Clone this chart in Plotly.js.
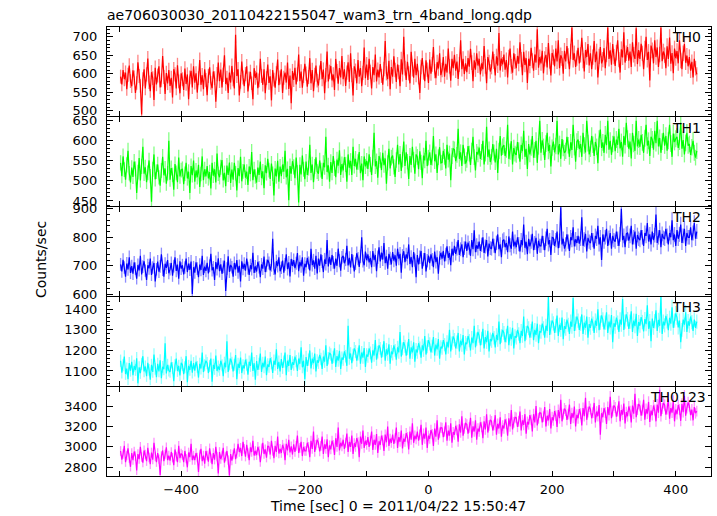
<!DOCTYPE html>
<html>
<head>
<meta charset="utf-8">
<script src="https://cdn.plot.ly/plotly-3.0.1.min.js"></script>
<style>html,body{margin:0;padding:0;background:#fff;}#chart{width:717px;height:516px;}</style>
</head>
<body>
<div id="chart"></div>
<script>
// Time bins (sec relative to 2011/04/22 15:50:47)
const tStart = -498;
const tStep = 2;

const bandNames = ["TH0", "TH1", "TH2", "TH3", "TH0123"];

const th0 = [
592,571,610,585,603,558,597,622,580,566,
609,590,548,575,631,594,567,490,585,612,
560,598,641,577,553,604,588,529,616,571,
595,620,563,582,648,591,545,602,574,610,
567,589,536,612,598,560,623,579,547,601,
585,556,614,572,598,531,590,608,563,620,
576,601,549,588,637,570,596,558,612,583,
542,594,617,575,561,606,588,524,599,630,
580,611,563,597,650,572,589,548,603,576,
621,585,560,705,594,612,541,578,633,590,
566,599,620,552,587,605,574,531,615,589,
603,561,582,640,594,570,612,547,588,625,
575,593,528,610,584,562,601,638,569,590,
612,548,589,603,576,630,559,595,520,607,
583,616,571,598,652,580,606,562,594,627,
600,565,591,642,574,610,553,597,622,581,
568,603,634,585,611,547,596,660,579,605,
621,582,598,556,640,607,573,615,590,648,
585,612,567,603,631,578,655,596,541,620,
608,574,637,592,615,566,602,671,588,625,
583,640,605,560,618,596,652,579,611,590,
626,594,570,613,688,601,585,635,558,618,
592,647,610,578,625,604,566,639,598,700,
615,583,632,601,574,659,612,589,640,596,
627,590,548,618,642,603,580,636,611,575,
638,600,625,672,607,588,631,614,655,596,
610,645,592,627,603,668,620,581,640,615,
651,608,633,586,625,690,612,640,599,628,
604,642,619,667,630,580,636,611,655,622,
640,598,628,612,675,620,574,645,631,606,
618,660,633,595,647,622,710,609,641,625,
652,611,637,590,644,668,620,603,655,633,
615,648,627,685,638,596,659,624,642,575,
640,621,670,635,608,652,630,720,616,645,
628,662,601,640,651,617,683,634,595,656,
645,620,668,633,690,615,650,641,600,662,
633,675,648,612,660,725,637,655,618,642,
670,628,651,697,635,606,664,645,680,622,
655,612,645,688,631,660,590,647,672,628,
638,669,615,652,725,640,663,624,680,646,
621,657,690,638,603,666,644,712,630,655,
672,635,660,618,685,651,640,723,626,664,
640,681,655,612,668,700,637,659,582,676,
663,628,690,645,671,618,652,725,634,660,
650,615,674,640,698,627,656,601,668,642,
661,628,690,635,612,655,680,630,649,620,
645,608,632,590,640,615,598
];

const th1 = [
545,512,561,528,503,540,575,519,496,533,
510,548,530,470,522,557,501,536,585,518,
534,497,520,551,512,448,529,566,504,523,
541,509,488,526,560,514,531,493,519,600,
503,532,515,478,542,520,497,558,511,527,
530,492,518,545,506,523,470,537,514,551,
498,526,509,540,485,517,561,502,529,511,
537,506,522,481,545,513,529,496,568,518,
509,534,552,501,520,487,538,515,546,495,
528,503,545,519,476,532,512,560,499,524,
541,508,523,490,536,517,572,502,529,511,
496,533,515,548,507,524,482,539,519,555,
527,505,543,518,464,531,511,550,498,536,
512,541,523,575,509,530,452,537,518,549,
535,507,558,521,446,540,516,563,529,504,
548,515,532,590,520,541,497,536,559,523,
518,551,527,505,545,534,610,522,539,498,
547,520,562,531,509,553,538,576,515,542,
526,559,541,498,566,533,550,515,585,537,
555,528,547,572,519,543,502,561,536,550,
530,566,541,515,558,620,536,549,508,562,
552,527,570,539,556,493,545,580,531,558,
563,535,510,552,590,541,567,525,553,598,
537,571,548,505,562,540,585,553,518,566,
560,529,574,546,507,563,551,600,537,558,
571,540,558,612,549,566,520,559,584,545,
546,575,560,531,590,553,568,502,562,580,
578,549,565,630,555,571,537,590,561,543,
552,587,568,540,575,610,559,526,572,566,
583,555,572,600,541,568,635,560,578,547,
560,592,571,546,580,520,575,612,563,585,
589,562,578,640,555,573,599,541,582,568,
565,597,576,548,590,574,625,560,580,530,
592,566,583,612,558,577,600,545,586,650,
570,601,585,552,593,620,574,590,536,583,
598,571,587,650,566,592,555,604,582,570,
575,610,589,560,596,577,640,584,548,598,
603,579,592,560,620,588,571,650,594,566,
580,612,590,562,597,585,544,605,628,582,
596,570,615,589,650,578,600,565,592,611,
574,603,590,630,581,597,560,612,589,645,
605,580,598,556,620,592,575,650,586,603,
585,615,596,570,606,640,588,600,562,610,
603,578,625,594,650,586,607,570,598,620,
588,612,575,600,640,593,560,618,597,605,
610,582,598,645,580,602,566,595,620,588,
592,565,584,600,570,558,575
];

const th2 = [
705,680,721,694,662,708,687,730,675,699,
672,712,690,655,703,684,735,670,697,716,
683,650,702,691,725,668,694,710,645,688,
715,679,698,740,686,662,707,693,720,674,
688,710,665,699,730,682,704,655,716,690,
702,670,694,725,678,708,686,715,601,695,
676,712,690,660,704,685,735,668,697,682,
710,673,700,742,684,695,650,713,688,726,
681,705,672,696,718,612,690,733,679,703,
695,662,710,687,720,676,700,645,716,689,
707,683,725,692,668,702,688,746,675,698,
680,714,695,660,705,690,732,678,700,721,
710,684,702,795,690,670,716,699,730,681,
693,718,676,705,740,688,712,663,724,700,
720,692,709,745,681,714,698,730,665,707,
695,728,710,684,760,702,719,690,735,673,
725,700,740,715,678,722,706,790,698,731,
703,738,712,690,725,700,760,718,683,729,
735,709,722,770,701,728,694,741,716,680,
708,744,725,696,733,800,717,702,750,720,
740,712,728,695,752,720,738,681,730,765,
715,746,722,780,709,733,690,742,726,705,
748,718,737,700,760,725,742,676,735,751,
713,740,725,775,706,731,695,748,720,660,
738,705,730,752,690,722,745,680,718,736,
709,740,722,695,750,713,730,672,728,745,
725,752,715,740,768,728,745,702,760,736,
770,742,760,790,738,758,775,730,762,785,
752,781,763,735,790,758,825,748,772,760,
785,752,774,800,745,768,790,733,778,762,
760,795,770,744,781,810,758,775,730,788,
792,765,780,748,803,772,760,820,768,785,
765,800,776,750,790,772,845,763,784,741,
795,768,785,812,755,780,798,742,788,770,
770,805,780,755,795,830,775,790,738,800,
798,770,790,820,762,788,905,775,795,760,
775,810,785,752,800,790,835,768,793,780,
805,778,795,870,770,792,812,750,798,785,
780,815,790,760,805,795,840,775,800,720,
810,785,800,830,770,798,815,760,805,790,
785,820,795,770,810,900,790,805,765,812,
815,788,805,840,775,800,820,760,808,795,
790,825,800,770,815,805,850,785,810,775,
820,790,808,880,780,800,825,765,812,798,
795,830,805,775,815,800,860,790,810,770,
825,795,810,845,780,805,830,770,815,800,
800,835,790,815,850,795,820
];

const th3 = [
1150,1092,1128,1170,1085,1112,1060,1138,1101,1145,
1080,1125,1105,1162,1040,1118,1090,1135,1172,1098,
1122,1075,1140,1105,1058,1130,1095,1180,1110,1070,
1135,1098,1152,1065,1120,1108,1235,1088,1130,1102,
1095,1142,1115,1050,1128,1160,1100,1125,1078,1140,
1130,1085,1118,1172,1045,1125,1105,1150,1092,1138,
1102,1145,1120,1068,1135,1112,1190,1095,1128,1150,
1138,1090,1125,1160,1048,1130,1110,1175,1100,1122,
1105,1150,1128,1075,1140,1118,1245,1095,1132,1160,
1140,1098,1130,1178,1060,1135,1115,1165,1090,1128,
1112,1155,1130,1082,1145,1125,1190,1100,1138,1058,
1148,1105,1135,1185,1095,1140,1118,1170,1080,1132,
1120,1162,1138,1090,1150,1130,1205,1110,1145,1098,
1158,1115,1145,1190,1080,1150,1125,1178,1105,1142,
1130,1170,1148,1100,1160,1135,1215,1118,1150,1060,
1168,1125,1155,1200,1112,1160,1138,1185,1098,1152,
1140,1178,1158,1110,1170,1145,1225,1125,1162,1188,
1180,1135,1168,1210,1120,1172,1150,1198,1110,1165,
1155,1195,1172,1125,1320,1160,1185,1138,1178,1210,
1195,1150,1182,1225,1135,1190,1165,1212,1120,1180,
1170,1210,1188,1140,1200,1175,1250,1155,1192,1225,
1210,1165,1198,1245,1150,1205,1180,1230,1135,1195,
1182,1225,1200,1155,1215,1190,1290,1170,1208,1240,
1220,1175,1208,1255,1160,1215,1190,1240,1145,1205,
1190,1235,1212,1165,1225,1200,1270,1180,1218,1250,
1232,1190,1220,1265,1175,1228,1205,1255,1160,1218,
1210,1250,1228,1180,1242,1215,1300,1195,1235,1268,
1252,1210,1240,1285,1195,1248,1225,1275,1180,1238,
1230,1270,1248,1200,1262,1235,1320,1215,1255,1290,
1270,1225,1258,1305,1210,1265,1240,1295,1195,1255,
1245,1285,1262,1215,1275,1250,1340,1230,1270,1300,
1285,1240,1272,1320,1225,1280,1255,1310,1210,1270,
1262,1300,1280,1235,1295,1270,1365,1245,1285,1320,
1308,1262,1295,1340,1250,1300,1275,1330,1235,1292,
1290,1330,1308,1262,1320,1295,1460,1275,1312,1345,
1332,1285,1320,1370,1270,1325,1300,1360,1255,1318,
1305,1350,1325,1280,1340,1315,1455,1295,1330,1365,
1345,1300,1330,1375,1280,1335,1310,1365,1262,1328,
1310,1355,1330,1285,1345,1320,1400,1298,1335,1370,
1350,1302,1335,1385,1285,1340,1312,1372,1240,1332,
1315,1360,1335,1290,1350,1325,1450,1300,1340,1375,
1352,1305,1340,1390,1290,1345,1318,1378,1270,1338,
1320,1362,1338,1292,1352,1328,1420,1305,1342,1245,
1355,1310,1342,1395,1295,1348,1320,1460,1280,1340,
1322,1368,1342,1298,1358,1330,1410,1310,1345,1380,
1360,1312,1345,1240,1300,1350,1325,1385,1290,1342,
1320,1365,1338,1295,1350,1310,1340
];

const th0123 = [
2960,2875,2930,3010,2850,2915,2985,2890,2805,2940,
2870,2955,2910,2770,2930,2880,3000,2900,2845,2965,
2925,2860,2990,2895,2830,2945,2875,3040,2905,2850,
2940,2880,2725,2910,2965,2860,2925,2995,2870,2915,
2865,2950,2895,2820,2975,2905,2850,3010,2890,2935,
2920,2850,2960,2885,2800,2945,2900,3030,2870,2915,
2870,2940,2895,2755,2925,2980,2860,2915,2835,2960,
2915,2855,2985,2890,2830,2940,2875,3000,2905,2740,
2950,2880,2915,2990,2845,2905,2960,2870,2720,2930,
2865,2925,2985,2880,2935,3030,2950,2990,2910,3050,
2980,2905,3020,2940,2870,2995,2950,3060,2915,2960,
2920,3000,2960,2850,2985,3040,2930,2975,2895,3010,
3000,2925,3060,2960,2890,3010,2950,3100,2935,2980,
2940,3020,2985,2870,3030,2965,3070,2945,3005,2925,
3025,2950,3010,3110,2940,2990,3050,2910,3000,2960,
2960,3040,3000,2900,3060,2980,3150,2950,3020,3070,
3040,2955,3010,3100,2930,3025,2980,3075,2900,3015,
2975,3060,3020,2920,3085,3000,3190,2965,3040,3005,
3070,2980,3040,3130,2950,3050,3000,3110,2930,3035,
3000,3085,3045,2900,3100,3030,3160,2990,3060,3020,
3095,3000,3060,3150,2970,3070,3020,3125,2940,3055,
3020,3110,3065,2960,3120,3045,3200,3010,3080,3040,
3120,3030,3085,3190,2990,3095,3050,3160,2985,3080,
3050,3135,3095,2975,3150,3070,3230,3040,3110,3075,
3150,3060,3120,3215,3020,3130,3080,3190,2990,3110,
3080,3165,3125,3010,3180,3100,3260,3070,3140,3190,
3185,3095,3150,3240,3060,3160,3110,3230,3040,3145,
3120,3205,3165,3050,3220,3140,3300,3110,3180,3230,
3220,3130,3190,3285,3090,3200,3150,3260,3070,3180,
3150,3240,3195,3085,3250,3170,3320,3140,3210,3265,
3250,3160,3215,3310,3120,3225,3180,3290,3100,3210,
3180,3270,3225,3110,3280,3200,3360,3170,3240,3290,
3285,3195,3250,3345,3160,3260,3215,3320,3130,3245,
3220,3310,3265,3150,3320,3240,3400,3210,3280,3335,
3330,3240,3295,3390,3200,3305,3260,3370,3180,3290,
3260,3350,3305,3195,3360,3280,3460,3250,3320,3375,
3355,3265,3320,3415,3225,3330,3285,3395,3200,3315,
3280,3370,3325,3210,3380,3300,3480,3265,3340,3395,
3370,3280,3335,3430,3240,3345,3300,3410,3120,3330,
3290,3380,3335,3225,3390,3310,3490,3280,3350,3405,
3385,3295,3350,3445,3250,3360,3315,3425,3230,3340,
3300,3395,3350,3240,3405,3325,3520,3290,3365,3420,
3400,3305,3360,3460,3265,3370,3325,3440,3245,3355,
3310,3405,3360,3250,3415,3335,3560,3300,3375,3430,
3410,3315,3370,3470,3275,3380,3335,3450,3250,3365,
3320,3410,3365,3255,3420,3340,3500,3305,3380,3435,
3400,3310,3365,3260,3390,3330,3350
];

const series = [th0, th1, th2, th3, th0123];
const colors = ["#ff0000", "#00ff00", "#0000ff", "#00ffff", "#ff00ff"];
const errColors = ["rgba(255,80,80,0.7)", "rgba(80,255,80,0.7)", "rgba(80,80,255,0.65)", "rgba(110,255,255,0.75)", "rgba(255,100,255,0.7)"];
const errPct = [3.2, 3.5, 3.2, 2.6, 1.6];
const yRanges = [[485.7, 726.2], [437.5, 659.2], [594, 906.3], [1027, 1459.8], [2715, 3586]];
const yDtick = [50, 50, 100, 100, 200];
const yMinor = [10, 10, 20, 20, 100];
const xRange = [-520, 457];

const FONT = "DejaVu Sans, Liberation Sans, Arial, sans-serif";

const time = th0.map((_, i) => tStart + i * tStep);

const traces = series.map((ys, k) => {
  const n = k === 0 ? "" : String(k + 1);
  return {
    type: "scatter",
    mode: "lines",
    x: time,
    y: ys,
    xaxis: "x" + n,
    yaxis: "y" + n,
    line: {color: colors[k], width: 1.2},
    error_y: {type: "percent", value: errPct[k], color: errColors[k], thickness: 1.3, width: 0},
    hoverinfo: "skip",
    showlegend: false
  };
});

// plot area in pixels: 27..476 (449 px) = 5 panels of 89 px with 1 px seams
const marginT = 27, marginB = 40, plotH = 449, panelH = 89, seam = 1;

const layout = {
  width: 717,
  height: 516,
  margin: {l: 107, r: 6, t: marginT, b: marginB},
  paper_bgcolor: "#ffffff",
  plot_bgcolor: "#ffffff",
  font: {family: FONT, size: 13, color: "#000"},
  title: {
    text: "ae706030030_20110422155047_wam3_trn_4band_long.qdp",
    font: {family: FONT, size: 14, color: "#000"},
    xref: "paper", x: 0, xanchor: "left",
    yref: "container", y: 1 - 15 / 516, yanchor: "middle"
  },
  showlegend: false,
  annotations: []
};

const nP = 5;
for (let k = 0; k < nP; k++) {
  const n = k === 0 ? "" : String(k + 1);
  const topPx = k * (panelH + seam);
  const botPx = topPx + panelH;
  layout["yaxis" + n] = {
    domain: [1 - botPx / plotH, 1 - topPx / plotH],
    anchor: "x" + n,
    range: yRanges[k],
    dtick: yDtick[k],
    tick0: 0,
    ticks: "inside",
    ticklen: 6,
    tickwidth: 1,
    tickcolor: "#000",
    minor: {dtick: yMinor[k], ticks: "inside", ticklen: 3, tickcolor: "#000", tickwidth: 1, showgrid: false},
    showline: true,
    linecolor: "#000",
    linewidth: 1,
    mirror: "ticks",
    showgrid: false,
    zeroline: false,
    tickfont: {family: FONT, size: 13, color: "#000"},
    ticklabelstandoff: 6,
    fixedrange: true
  };
  layout["xaxis" + n] = {
    domain: [0, 1],
    anchor: "y" + n,
    range: xRange,
    dtick: 200,
    tick0: 0,
    ticks: "inside",
    ticklen: 5,
    tickwidth: 1,
    tickcolor: "#000",
    minor: {dtick: 100, ticks: "inside", ticklen: 5, tickcolor: "#000", tickwidth: 1, showgrid: false},
    showline: true,
    linecolor: "#000",
    linewidth: 1,
    mirror: "ticks",
    showgrid: false,
    zeroline: false,
    showticklabels: k === nP - 1,
    tickfont: {family: FONT, size: 13, color: "#000"},
    ticklabelstandoff: 1,
    fixedrange: true
  };
}

// Panel labels
const labelPos = [
  {x: 703, y: 37},
  {x: 703, y: 127.7},
  {x: 703, y: 216.7},
  {x: 703, y: 306.7},
  {x: 708, y: 396.7}
];
const plotL = 107, plotW = 604, plotB = 476;
bandNames.forEach((name, k) => {
  layout.annotations.push({
    text: name,
    xref: "paper", yref: "paper",
    x: (labelPos[k].x - plotL) / plotW,
    y: (plotB - labelPos[k].y) / plotH,
    xanchor: "right", yanchor: "middle",
    showarrow: false,
    font: {family: FONT, size: 14, color: "#000"}
  });
});

// Axis titles
layout.annotations.push({
  text: "Time [sec] 0 = 2011/04/22 15:50:47",
  xref: "paper", yref: "paper",
  x: (397.5 - plotL) / plotW,
  y: (plotB - 506) / plotH,
  xanchor: "center", yanchor: "middle",
  showarrow: false,
  font: {family: FONT, size: 14, color: "#000"}
});
layout.annotations.push({
  text: "Counts/sec",
  xref: "paper", yref: "paper",
  x: (41 - plotL) / plotW,
  y: (plotB - 260) / plotH,
  xanchor: "center", yanchor: "middle",
  textangle: -90,
  showarrow: false,
  font: {family: FONT, size: 14, color: "#000"}
});

Plotly.newPlot("chart", traces, layout, {displayModeBar: false, staticPlot: true});
</script>
</body>
</html>
